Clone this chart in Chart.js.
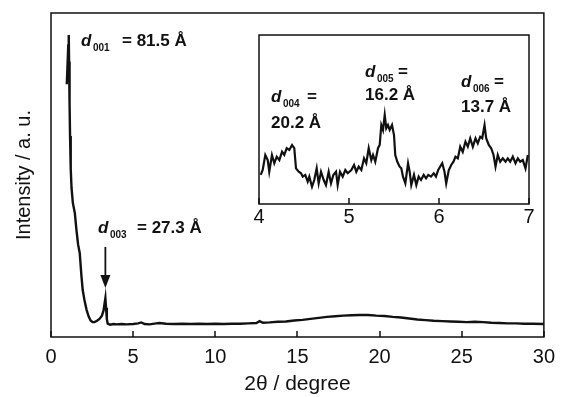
<!DOCTYPE html>
<html>
<head>
<meta charset="utf-8">
<script src="https://cdn.jsdelivr.net/npm/chart.js@4.4.1/dist/chart.umd.min.js"></script>
<style>
  body { margin: 0; background: #fff; }
  #wrap { position: relative; width: 563px; height: 397px; }
  #mainCanvas { position: absolute; left: 0; top: 0; }
  #insetCanvas { position: absolute; left: 244px; top: 25px; }
</style>
</head>
<body>
<div id="wrap">
  <canvas id="mainCanvas" width="563" height="397"></canvas>
  <canvas id="insetCanvas" width="305" height="205"></canvas>
</div>
<script>
// Main pattern: 2theta (degree) and intensity (a.u., 0-100 scale)
const mainAngle = [0.96, 1.0, 1.05, 1.08, 1.1, 1.13, 1.16, 1.2, 1.25, 1.33, 1.45, 1.55, 1.65, 1.75, 1.85, 1.93,
  2.05, 2.17, 2.3, 2.42, 2.53, 2.65, 2.8, 2.95, 3.1, 3.2, 3.28, 3.31, 3.35, 3.4, 3.45, 3.6, 3.8, 4.0, 4.3, 4.6,
  5.0, 5.3, 5.5, 5.7, 6.0, 6.4, 6.6, 7.0, 7.5, 8.0, 8.5, 9.0, 9.5, 10.0, 10.5, 11.0, 11.5, 12.0, 12.5, 12.7,
  12.9, 13.3, 13.8, 14.3, 14.8, 15.3, 15.8, 16.3, 16.8, 17.3, 17.8, 18.3, 18.8, 19.3, 19.8, 20.3, 20.8, 21.3,
  21.8, 22.3, 22.8, 23.3, 23.8, 24.3, 24.8, 25.3, 25.8, 26.3, 26.8, 27.3, 27.8, 28.3, 28.8, 29.3, 30.0];
const mainIntensity = [78, 83, 90, 93.2, 85, 72, 62, 52, 46, 41.4, 38.3, 33, 28.5, 25.9, 19, 14.5,
  11, 8.3, 6.2, 5.0, 4.6, 4.6, 5.0, 5.6, 6.6, 8.2, 11.0, 12.0, 9.0, 5.5, 4.1, 3.8, 4.0, 3.9, 4.0, 3.9,
  4.0, 4.2, 4.5, 4.0, 3.9, 4.2, 4.3, 4.1, 4.0, 4.1, 4.0, 4.1, 4.0, 4.1, 4.0, 4.1, 4.1, 4.2, 4.3, 4.9,
  4.4, 4.5, 4.7, 4.8, 5.1, 5.3, 5.6, 5.9, 6.2, 6.4, 6.6, 6.7, 6.8, 6.8, 6.6, 6.5, 6.2, 6.0,
  5.7, 5.4, 5.2, 5.0, 4.9, 4.8, 4.7, 4.6, 4.7, 4.6, 4.4, 4.3, 4.2, 4.2, 4.1, 4.1, 4.0];
const mainTicks = [0, 5, 10, 15, 20, 25, 30];

// Inset: 4-7 degree zoom
const insetAngle = [4.019, 4.041, 4.070, 4.097, 4.114, 4.144, 4.170, 4.197, 4.226, 4.256, 4.281, 4.308, 4.337,
  4.367, 4.392, 4.411, 4.441, 4.467, 4.486, 4.514, 4.541, 4.559, 4.589, 4.614, 4.641, 4.663, 4.689, 4.719,
  4.744, 4.774, 4.800, 4.826, 4.856, 4.874, 4.900, 4.930, 4.959, 4.986,
  5.026, 5.056, 5.081, 5.108, 5.137, 5.167, 5.192, 5.219, 5.248, 5.267, 5.292, 5.322, 5.341, 5.359, 5.378,
  5.397, 5.414, 5.433, 5.452, 5.478, 5.500, 5.514, 5.537, 5.563, 5.581, 5.600, 5.626, 5.656, 5.674, 5.692,
  5.722, 5.748, 5.774, 5.800, 5.830, 5.856, 5.881, 5.911, 5.941, 5.966, 5.991,
  6.036, 6.061, 6.080, 6.109, 6.136, 6.161, 6.183, 6.209, 6.236, 6.264, 6.294, 6.320, 6.347, 6.376, 6.406,
  6.431, 6.458, 6.480, 6.506, 6.524, 6.553, 6.580, 6.606, 6.628, 6.653, 6.680, 6.709, 6.739, 6.764, 6.791,
  6.820, 6.850, 6.876, 6.902, 6.931, 6.961, 6.987];
const insetIntensity = [17.2, 20.1, 29.0, 26.0, 19.1, 29.0, 24.1, 28.0, 26.0, 30.9, 29.0, 33.0, 32.0,
  34.9, 33.0, 21.1, 19.1, 18.2, 16.2, 17.2, 13.2, 16.2, 10.2, 14.2, 21.1, 12.2, 19.1, 14.2,
  11.2, 19.1, 12.2, 17.2, 19.1, 11.2, 19.1, 16.2, 20.1, 18.2,
  20.1, 23.1, 19.1, 22.1, 20.1, 27.0, 24.1, 33.0, 26.0, 29.0, 25.0, 33.0, 34.9, 46.7, 43.8,
  52.7, 44.8, 46.7, 43.8, 46.7, 40.8, 29.0, 25.0, 22.1, 21.1, 16.2, 12.2, 24.1, 19.1, 11.2,
  17.2, 11.2, 16.2, 14.2, 17.2, 15.2, 17.2, 16.2, 18.2, 16.2, 20.1,
  24.1, 19.1, 12.2, 20.1, 23.1, 25.0, 28.0, 27.0, 33.9, 30.9, 36.9, 33.9, 38.9, 33.9, 38.9,
  35.9, 39.8, 38.9, 46.7, 38.9, 34.9, 33.0, 29.0, 22.1, 29.0, 25.0, 27.0, 25.0, 27.0, 25.0,
  28.0, 24.1, 27.0, 25.0, 26.0, 21.1, 29.0];
const insetTicks = [4, 5, 6, 7];

// Arrow marking d003 (degree, from / to intensity)
const arrowAngle = 3.31;
const arrowFrom = 27.8;
const arrowTo = 15.1;

const FONT = '"Liberation Sans", Arial, sans-serif';
const INK = '#111';

function toPoints(xs, ys) {
  return xs.map((x, i) => ({ x: x, y: ys[i] }));
}

// d_hkl label: italic d, small subscript, then the rest
function drawD(ctx, x, y, sub, rest, restDx) {
  ctx.fillStyle = INK;
  ctx.textBaseline = 'alphabetic';
  ctx.textAlign = 'left';
  ctx.font = 'italic bold 17px ' + FONT;
  ctx.fillText('d', x, y);
  ctx.font = 'bold 10px ' + FONT;
  ctx.fillText(sub, x + 12, y + 5);
  ctx.font = 'bold 17px ' + FONT;
  ctx.fillText(rest, x + restDx, y);
}

function drawFrame(chart, ticks, len) {
  const ctx = chart.ctx;
  const a = chart.chartArea;
  const xs = chart.scales.x;
  ctx.save();
  ctx.strokeStyle = INK;
  ctx.lineWidth = 1.5;
  ctx.strokeRect(a.left, a.top, a.right - a.left, a.bottom - a.top);
  ctx.beginPath();
  ticks.forEach(t => {
    const px = Math.round(xs.getPixelForValue(t));
    ctx.moveTo(px, a.bottom);
    ctx.lineTo(px, a.bottom - len);
  });
  ctx.stroke();
  ctx.restore();
}

const mainDecor = {
  id: 'mainDecor',
  afterDraw(chart) {
    drawFrame(chart, mainTicks, 6);
    const ctx = chart.ctx;
    const xs = chart.scales.x, ys = chart.scales.y;
    const ax = xs.getPixelForValue(arrowAngle);
    const y0 = ys.getPixelForValue(arrowFrom);
    const y1 = ys.getPixelForValue(arrowTo);
    ctx.save();
    ctx.strokeStyle = INK;
    ctx.fillStyle = INK;
    ctx.lineWidth = 1.8;
    ctx.beginPath();
    ctx.moveTo(ax, y0);
    ctx.lineTo(ax, y1 - 10);
    ctx.stroke();
    ctx.beginPath();
    ctx.moveTo(ax - 5, y1 - 13);
    ctx.lineTo(ax + 5, y1 - 13);
    ctx.lineTo(ax, y1);
    ctx.closePath();
    ctx.fill();
    drawD(ctx, 81, 46, '001', '= 81.5 Å', 41);
    drawD(ctx, 98, 233, '003', '= 27.3 Å', 39);
    ctx.restore();
  }
};

const insetDecor = {
  id: 'insetDecor',
  afterDraw(chart) {
    drawFrame(chart, insetTicks, 6);
    const ctx = chart.ctx;
    ctx.save();
    // positions relative to the inset canvas (offset 244, 25)
    drawD(ctx, 27, 77, '004', '=', 36);
    ctx.font = 'bold 17px ' + FONT;
    ctx.fillText('20.2 Å', 27, 103);
    drawD(ctx, 121, 52, '005', '=', 33);
    ctx.font = 'bold 17px ' + FONT;
    ctx.fillText('16.2 Å', 121, 75);
    drawD(ctx, 217, 62, '006', '=', 33);
    ctx.font = 'bold 17px ' + FONT;
    ctx.fillText('13.7 Å', 217, 87);
    ctx.restore();
  }
};

new Chart(document.getElementById('mainCanvas').getContext('2d'), {
  type: 'line',
  data: {
    datasets: [{
      data: toPoints(mainAngle, mainIntensity),
      borderColor: INK,
      borderWidth: 2.4,
      pointRadius: 0,
      tension: 0,
      fill: false
    }]
  },
  options: {
    responsive: false,
    animation: false,
    layout: { padding: { top: 13, right: 14, left: 0, bottom: 0 } },
    plugins: { legend: { display: false }, tooltip: { enabled: false } },
    scales: {
      x: {
        type: 'linear', min: 0, max: 30,
        afterFit(s) { s.height = 60; },
        grid: { display: false, drawTicks: false },
        border: { display: false },
        ticks: { stepSize: 5, padding: 8, color: INK, font: { family: FONT, size: 20 } },
        title: { display: true, text: '2θ / degree', color: INK, font: { family: FONT, size: 21 }, padding: { top: 0, bottom: 0 } }
      },
      y: {
        type: 'linear', min: 0, max: 100,
        afterFit(s) { s.width = 51; },
        grid: { display: false, drawTicks: false },
        border: { display: false },
        ticks: { display: false },
        title: { display: true, text: 'Intensity / a. u.', color: INK, font: { family: FONT, size: 20 }, padding: { top: 12, bottom: 0 } }
      }
    }
  },
  plugins: [mainDecor]
});

new Chart(document.getElementById('insetCanvas').getContext('2d'), {
  type: 'line',
  data: {
    datasets: [{
      data: toPoints(insetAngle, insetIntensity),
      borderColor: INK,
      borderWidth: 2.2,
      pointRadius: 0,
      tension: 0,
      fill: false
    }]
  },
  options: {
    responsive: false,
    animation: false,
    layout: { padding: { top: 10, right: 20, left: 15, bottom: 0 } },
    plugins: { legend: { display: false }, tooltip: { enabled: false } },
    scales: {
      x: {
        type: 'linear', min: 4, max: 7,
        afterFit(s) { s.height = 26; },
        grid: { display: false, drawTicks: false },
        border: { display: false },
        ticks: { stepSize: 1, padding: 1, color: INK, font: { family: FONT, size: 20 } }
      },
      y: {
        type: 'linear', min: 0, max: 100,
        display: false
      }
    }
  },
  plugins: [insetDecor]
});
</script>
</body>
</html>
